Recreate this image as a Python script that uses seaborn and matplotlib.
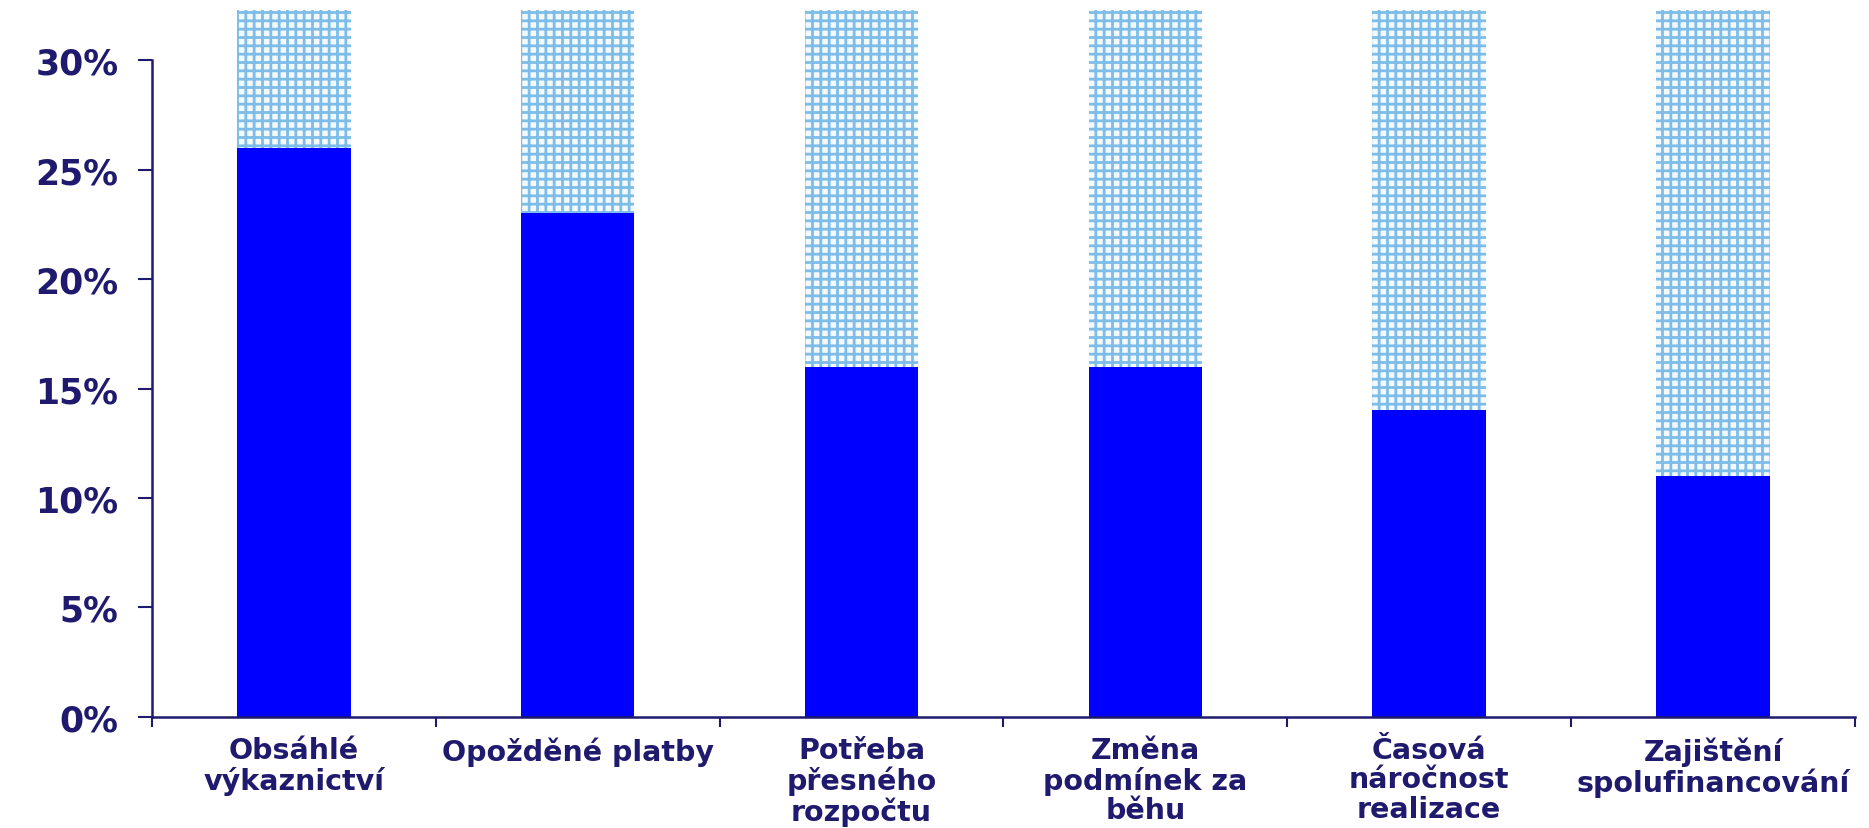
import numpy as np
import pandas as pd
import seaborn as sns
import matplotlib as mat

mat.use("Agg")

import matplotlib.pyplot as plt
from matplotlib.ticker import FixedLocator, PercentFormatter


# data
kategorie = [
    "Obsáhlé\nvýkaznictví",
    "Opožděné platby",
    "Potřeba\npřesného\nrozpočtu",
    "Změna\npodmínek za\nběhu",
    "Časová\nnáročnost\nrealizace",
    "Zajištění\nspolufinancování",
]
podil = [26, 23, 16, 16, 14, 11]
celkem = [100, 100, 100, 100, 100, 100]

BARVA_TEXT = "#1f1a6e"
BARVA_SLOUPEC = "#0000ff"
BARVA_SRAFA = "#7dbde8"


def main() -> None:
    sns.set_theme(style="white")
    plt.rcParams["font.family"] = ["DejaVu Sans"]
    plt.rcParams["hatch.linewidth"] = 2.0

    df = pd.DataFrame({"kategorie": kategorie, "podil": podil, "celkem": celkem})

    fig = plt.figure(figsize=(18.69, 8.29), dpi=100)
    ax = fig.add_axes([0.0813, 0.134, 0.9112, 0.853])

    # hatched remainder behind, solid share in front
    sns.barplot(
        data=df, x="kategorie", y="celkem", ax=ax, width=0.4,
        color="#f4f9fd", saturation=1, edgecolor=BARVA_SRAFA,
        linewidth=0, hatch="++", zorder=1,
    )
    sns.barplot(
        data=df, x="kategorie", y="podil", ax=ax, width=0.4,
        color=BARVA_SLOUPEC, saturation=1, linewidth=0, zorder=2,
    )

    ax.set_xlim(-0.5, len(kategorie) - 0.5)
    ax.set_ylim(0, 32.3)
    ax.set_xlabel("")
    ax.set_ylabel("")

    for strana in ["top", "right"]:
        ax.spines[strana].set_visible(False)
    for strana in ["left", "bottom"]:
        ax.spines[strana].set_color(BARVA_TEXT)
        ax.spines[strana].set_linewidth(1.8)
    ax.spines["left"].set_bounds(0, 30)

    ax.yaxis.set_major_locator(FixedLocator([0, 5, 10, 15, 20, 25, 30]))
    ax.yaxis.set_major_formatter(PercentFormatter(decimals=0))
    ax.tick_params(
        axis="y", left=True, length=10, width=1.5, color=BARVA_TEXT,
        pad=14, labelsize=25, labelcolor=BARVA_TEXT,
    )
    for t in ax.get_yticklabels():
        t.set_fontweight("bold")

    # boundary ticks as major, labels on minor ticks at bar centres
    ax.xaxis.set_major_locator(FixedLocator(np.arange(-0.5, len(kategorie), 1.0)))
    ax.xaxis.set_minor_locator(FixedLocator(np.arange(len(kategorie))))
    ax.set_xticklabels([""] * (len(kategorie) + 1))
    ax.set_xticks(np.arange(len(kategorie)), kategorie, minor=True)
    ax.tick_params(axis="x", which="major", bottom=True, length=7, width=1.5,
                   color=BARVA_TEXT)
    ax.tick_params(axis="x", which="minor", bottom=False, length=0, pad=14,
                   labelsize=20.5, labelcolor=BARVA_TEXT)
    for t in ax.get_xticklabels(minor=True):
        t.set_fontweight("bold")
        t.set_linespacing(1.05)
        t.set_verticalalignment("top")

    fig.savefig("out.png", dpi=100)
    plt.close(fig)


if __name__ == "__main__":
    main()
